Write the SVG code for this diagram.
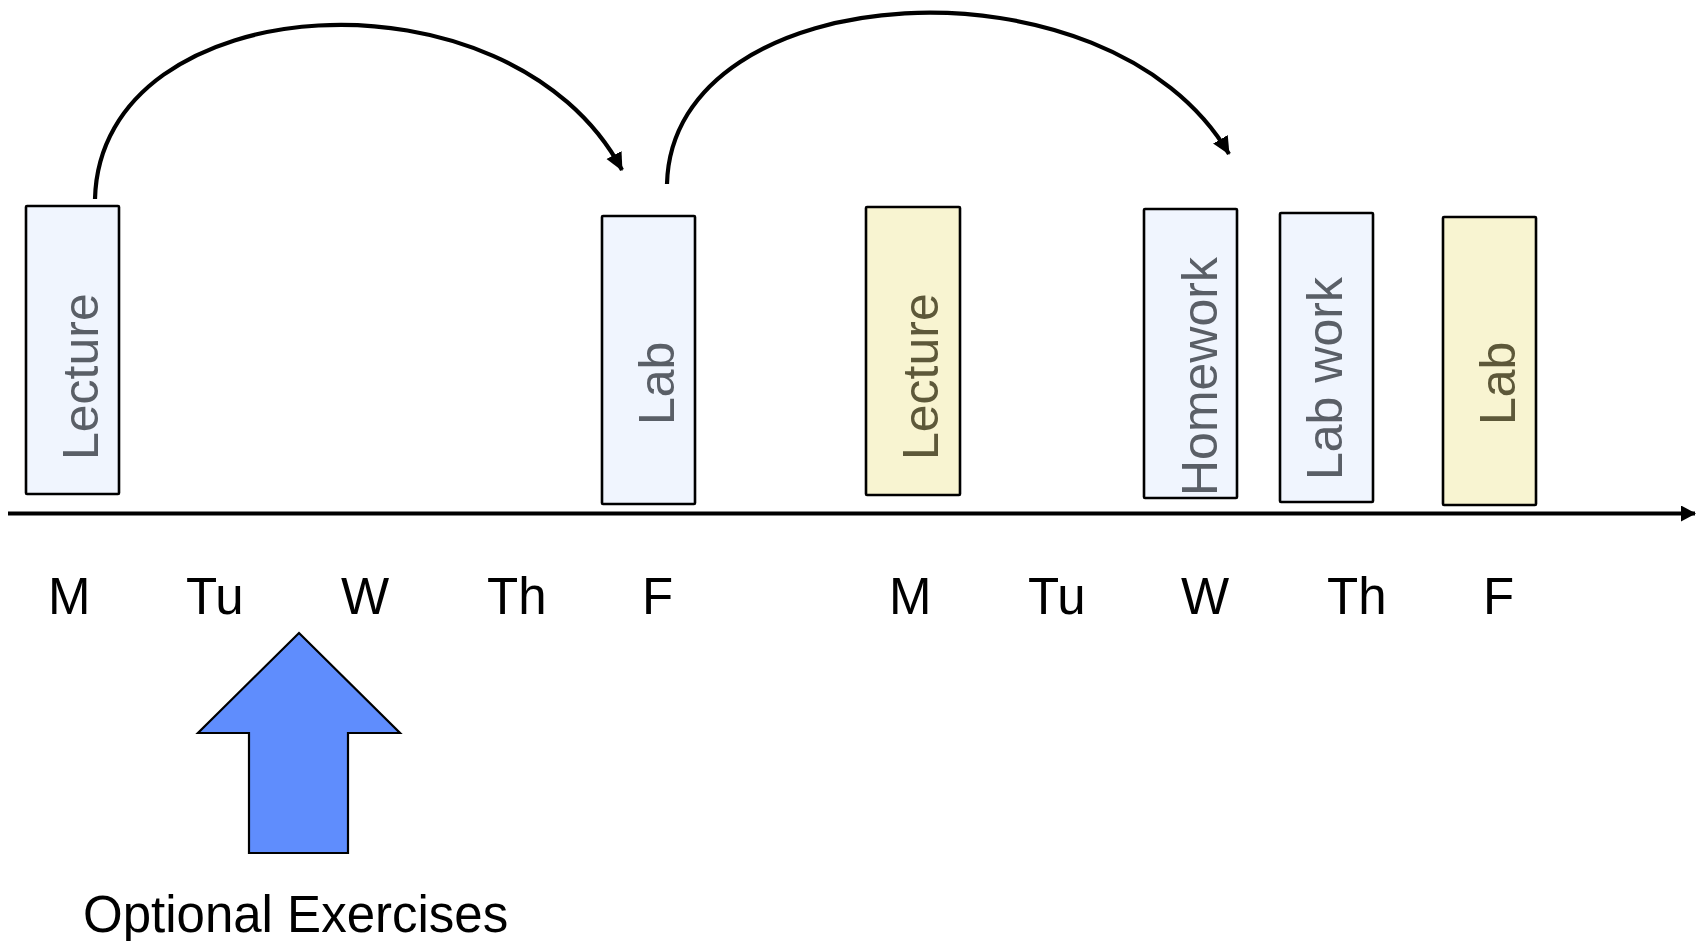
<svg xmlns="http://www.w3.org/2000/svg" width="1696" height="941" viewBox="0 0 1696 941">
<style>
.box{stroke:#000;stroke-width:2.6}
.blue{fill:#f0f5fe}
.yel{fill:#f8f4d1}
.vt{font-family:"Liberation Sans",Arial,sans-serif;font-size:50px}
.vtb{fill:#5a5f67}
.vty{fill:#5d5839}
.day{font-family:"Liberation Sans",Arial,sans-serif;font-size:51px;fill:#000}
.conn{fill:none;stroke:#000;stroke-width:4.2}
</style>
<defs>
<marker id="ah" markerUnits="userSpaceOnUse" markerWidth="24" markerHeight="24" refX="17" refY="8.5" orient="auto">
<path d="M0,0 L18,8.5 L0,17 z" fill="#000"/>
</marker>
<marker id="axh" markerUnits="userSpaceOnUse" markerWidth="20" markerHeight="20" refX="14" refY="8" orient="auto">
<path d="M0,0 L15,8 L0,16 z" fill="#000"/>
</marker>
</defs>
<rect width="1696" height="941" fill="#fff"/>
<g id="connectors">
<path class="conn" d="M95,199 C100,-15 510,-40 622,170" marker-end="url(#ah)"/>
<path class="conn" d="M667,184 C672,-26 1109,-51 1229,154" marker-end="url(#ah)"/>
<line x1="8" y1="513.5" x2="1695" y2="513.5" stroke="#000" stroke-width="4" marker-end="url(#axh)"/>
</g>
<g id="lecture1"><rect class="box blue" x="26" y="206" width="93" height="288" rx="1"/><text class="vt vtb" transform="translate(98,460) rotate(-90)">Lecture</text></g>
<g id="lab1"><rect class="box blue" x="602" y="216" width="93" height="288" rx="1"/><text class="vt vtb" transform="translate(674,425) rotate(-90)">Lab</text></g>
<g id="lecture2"><rect class="box yel" x="866" y="207" width="94" height="288" rx="1"/><text class="vt vty" transform="translate(938,460) rotate(-90)">Lecture</text></g>
<g id="homework"><rect class="box blue" x="1144" y="209" width="93" height="289" rx="1"/><text class="vt vtb" transform="translate(1217,496) rotate(-90)">Homework</text></g>
<g id="labwork"><rect class="box blue" x="1280" y="213" width="93" height="289" rx="1"/><text class="vt vtb" transform="translate(1342,480) rotate(-90)">Lab work</text></g>
<g id="lab2"><rect class="box yel" x="1443" y="217" width="93" height="288" rx="1"/><text class="vt vty" transform="translate(1515,425) rotate(-90)">Lab</text></g>
<g id="days">
<text class="day" x="48" y="614">M</text>
<text class="day" x="186" y="614">Tu</text>
<text class="day" x="341" y="614">W</text>
<text class="day" x="487" y="614">Th</text>
<text class="day" x="642" y="614">F</text>
<text class="day" x="889" y="614">M</text>
<text class="day" x="1028" y="614">Tu</text>
<text class="day" x="1181" y="614">W</text>
<text class="day" x="1327" y="614">Th</text>
<text class="day" x="1483" y="614">F</text>
</g>
<g id="optional">
<path d="M299,633 L400,733 L348,733 L348,853 L249,853 L249,733 L198,733 Z" fill="#5f8dfd" stroke="#000" stroke-width="2.2" stroke-linejoin="miter"/>
<text class="day" x="83" y="932">Optional Exercises</text>
</g>
</svg>
